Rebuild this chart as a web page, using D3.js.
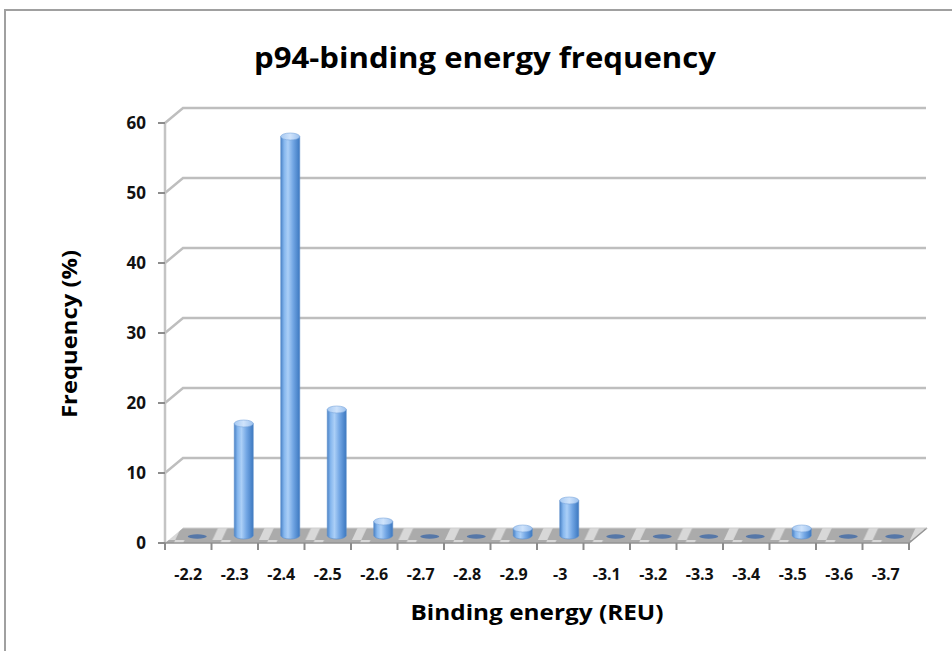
<!DOCTYPE html>
<html>
<head>
<meta charset="utf-8">
<script src="https://cdn.jsdelivr.net/npm/d3@7"></script>
<style>
  html, body { margin: 0; padding: 0; background: #fff; }
  svg { display: block; }
  text { font-family: "Open Sans", "Liberation Sans", sans-serif; font-weight: 700; }
</style>
</head>
<body>
<svg id="chart" width="952" height="651"></svg>
<script>
// Binding energy bins (REU) and the share of poses falling in each bin (%)
const categories = ["-2.2", "-2.3", "-2.4", "-2.5", "-2.6", "-2.7", "-2.8", "-2.9",
                    "-3", "-3.1", "-3.2", "-3.3", "-3.4", "-3.5", "-3.6", "-3.7"];
const frequency = [0, 16, 57, 18, 2, 0, 0, 1, 5, 0, 0, 0, 0, 1, 0, 0];
const yTicks = [0, 10, 20, 30, 40, 50, 60];

const titleText = "p94-binding energy frequency";
const xTitle = "Binding energy (REU)";
const yTitle = "Frequency (%)";

const svg = d3.select("#chart");
const W = 952, H = 651;

// 3D-style frame: front plane and a back wall shifted by (depthX, depthY)
const plot = { left: 165, right: 909, top: 123, bottom: 543 };
const depthX = 18, depthY = -15;

const x = d3.scaleBand().domain(categories).range([plot.left, plot.right]).padding(0);
const y = d3.scaleLinear().domain([0, 60]).range([plot.bottom, plot.top]);

const defs = svg.append("defs");

// cylinder body shading
const bodyGrad = defs.append("linearGradient").attr("id", "barBody")
  .attr("x1", "0%").attr("x2", "100%").attr("y1", "0%").attr("y2", "0%");
[["0%", "#4a82c6"], ["18%", "#86b7ee"], ["38%", "#abcff7"], ["65%", "#72a6e4"], ["100%", "#3c78c0"]]
  .forEach(([o, c]) => bodyGrad.append("stop").attr("offset", o).attr("stop-color", c));

const capGrad = defs.append("linearGradient").attr("id", "barCap")
  .attr("x1", "0%").attr("x2", "100%").attr("y1", "0%").attr("y2", "0%");
[["0%", "#a6c9f2"], ["50%", "#cfe3fb"], ["100%", "#9cc1ee"]]
  .forEach(([o, c]) => capGrad.append("stop").attr("offset", o).attr("stop-color", c));

// floor with diagonal sheen bands
const floorPat = defs.append("pattern").attr("id", "floorPat")
  .attr("patternUnits", "userSpaceOnUse").attr("width", x.bandwidth()).attr("height", 20)
  .attr("x", plot.left).attr("y", 0);
floorPat.append("rect").attr("width", x.bandwidth()).attr("height", 20).attr("fill", "#ababab");
floorPat.append("path")
  .attr("d", `M${x.bandwidth() * 0.02},20 L${x.bandwidth() * 0.22},0 L${x.bandwidth() * 0.42},0 L${x.bandwidth() * 0.22},20 Z`)
  .attr("fill", "#d8d8d8");

// outer frame of the chart area
svg.append("path")
  .attr("d", `M5,${H} L5,10 L${W},10`)
  .attr("fill", "none").attr("stroke", "#a0a0a0").attr("stroke-width", 2);

// title
svg.append("text")
  .attr("x", 485).attr("y", 68)
  .attr("text-anchor", "middle")
  .attr("font-size", 29)
  .attr("textLength", 462).attr("lengthAdjust", "spacingAndGlyphs")
  .attr("fill", "#000")
  .text(titleText);

// back-wall gridlines with their oblique connectors to the front axis
const grid = svg.append("g");
yTicks.filter(t => t > 0).forEach(t => {
  const yf = y(t), yb = y(t) + depthY;
  grid.append("path")
    .attr("d", `M${plot.left},${yf} L${plot.left + depthX},${yb} L${plot.right + depthX - 1},${yb}`)
    .attr("fill", "none").attr("stroke", "#bebebe").attr("stroke-width", 2.5);
});

// front vertical axis line
svg.append("line")
  .attr("x1", plot.left).attr("x2", plot.left)
  .attr("y1", y(60)).attr("y2", y(0))
  .attr("stroke", "#c4c4c4").attr("stroke-width", 2.5);

// floor slab
const floorY = y(0);
svg.append("path")
  .attr("d", `M${plot.left},${floorY} L${plot.right},${floorY} L${plot.right + depthX},${floorY + depthY} L${plot.left + depthX},${floorY + depthY} Z`)
  .attr("fill", "url(#floorPat)");
svg.append("path")
  .attr("d", `M${plot.left},${floorY} L${plot.right},${floorY} L${plot.right + depthX},${floorY + depthY}`)
  .attr("fill", "none").attr("stroke", "#949494").attr("stroke-width", 1.5);
svg.append("path")
  .attr("d", `M${plot.left + depthX},${floorY + depthY} L${plot.right + depthX},${floorY + depthY}`)
  .attr("fill", "none").attr("stroke", "#d0d0d0").attr("stroke-width", 1);

// y-axis ticks and labels
const yAxis = svg.append("g");
yTicks.forEach(t => {
  yAxis.append("line")
    .attr("x1", plot.left - 7).attr("x2", plot.left)
    .attr("y1", y(t)).attr("y2", y(t))
    .attr("stroke", "#8c8c8c").attr("stroke-width", 2);
  yAxis.append("text")
    .attr("x", plot.left - 19).attr("y", y(t))
    .attr("dy", "0.36em")
    .attr("text-anchor", "end")
    .attr("font-size", 17)
    .attr("fill", "#111")
    .text(t);
});

// x-axis ticks at bin boundaries and category labels
const xAxis = svg.append("g");
const bounds = categories.map(c => x(c)).concat([plot.right]);
bounds.forEach(bx => {
  xAxis.append("line")
    .attr("x1", bx).attr("x2", bx)
    .attr("y1", floorY).attr("y2", floorY + 7)
    .attr("stroke", "#8c8c8c").attr("stroke-width", 2);
});
categories.forEach(c => {
  xAxis.append("text")
    .attr("x", x(c) + x.bandwidth() / 2).attr("y", floorY + 37)
    .attr("text-anchor", "middle")
    .attr("font-size", 16)
    .attr("fill", "#111")
    .text(c);
});

// cylinders, set half-way into the depth of the floor
const barW = 19, capRy = 3.5;
const bars = svg.append("g");
categories.forEach((c, i) => {
  const v = frequency[i];
  const cx = x(c) + x.bandwidth() / 2 + depthX / 2;
  const base = y(0) + depthY / 2;
  const top = y(v) + depthY / 2;
  const l = cx - barW / 2, r = cx + barW / 2;
  if (v === 0) {
    bars.append("ellipse")
      .attr("cx", cx).attr("cy", base + 1)
      .attr("rx", barW / 2).attr("ry", 2.2)
      .attr("fill", "#5577a8");
    return;
  }
  bars.append("path")
    .attr("d", `M${l},${top} L${l},${base} A${barW / 2},${capRy} 0 0 0 ${r},${base} L${r},${top} Z`)
    .attr("fill", "url(#barBody)")
    .attr("stroke", "#5d8fcc").attr("stroke-width", 0.6);
  bars.append("ellipse")
    .attr("cx", cx).attr("cy", top)
    .attr("rx", barW / 2).attr("ry", capRy)
    .attr("fill", "url(#barCap)")
    .attr("stroke", "#7aa6dc").attr("stroke-width", 0.6);
});

// axis titles
svg.append("text")
  .attr("x", 537).attr("y", 620)
  .attr("text-anchor", "middle")
  .attr("font-size", 21)
  .attr("textLength", 253).attr("lengthAdjust", "spacingAndGlyphs")
  .attr("fill", "#000")
  .text(xTitle);

svg.append("text")
  .attr("transform", "translate(77,334) rotate(-90)")
  .attr("text-anchor", "middle")
  .attr("font-size", 21)
  .attr("textLength", 168).attr("lengthAdjust", "spacingAndGlyphs")
  .attr("fill", "#000")
  .text(yTitle);
</script>
</body>
</html>
